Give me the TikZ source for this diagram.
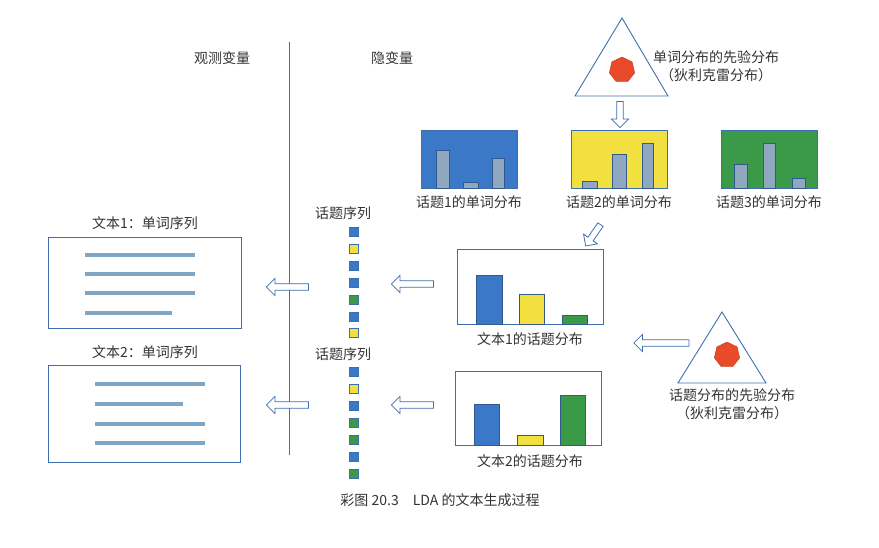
\documentclass[tikz,border=0pt]{standalone}
\usepackage{fontspec}
\setmainfont{Liberation Serif}
\newfontfamily\cjk{Noto Sans CJK SC}
\usetikzlibrary{shapes.geometric,shapes.arrows}
\definecolor{cB}{HTML}{3B78C8}
\definecolor{cY}{HTML}{F2E040}
\definecolor{cG}{HTML}{3A9A48}
\definecolor{cBar}{HTML}{8FA8BF}
\definecolor{cEdge}{HTML}{3D6FB0}
\definecolor{cRed}{HTML}{E84A2A}
\definecolor{cTxt}{HTML}{333333}
\definecolor{cLine}{HTML}{7FA6C4}
\begin{document}
\begin{tikzpicture}[x=1pt,y=-1pt,
  txt/.style={font=\cjk\fontsize{14}{18}\selectfont, text=cTxt, inner sep=0pt, align=center},
  harrow/.style={single arrow, draw=cEdge, fill=white, line width=0.8pt, minimum height=42pt, minimum width=17pt, single arrow head extend=4pt, inner sep=2pt},
  sq/.style={draw=cEdge, line width=0.5pt, minimum size=9pt, inner sep=0pt},
  frame/.style={draw=cEdge, line width=0.9pt},
  bar/.style={draw=cEdge!80!black, line width=0.5pt},
  hep/.style={regular polygon, regular polygon sides=7, fill=cRed, draw=cRed!80!black, minimum size=26pt, inner sep=0pt},
  wl/.style={draw=cLine, line width=3.5pt}]
\useasboundingbox (0,0) rectangle (879,547);
\node[txt] (obs) at (222,58) {观测变量};
\node[txt] (lat) at (392,58) {隐变量};
\draw[cEdge, line width=0.9pt] (289,42) -- (289,455);
% top triangle
\draw[frame] (622,18) -- (668,96) -- (575,96) -- cycle;
\node[hep] (h1) at (622,70) {};
\node[txt] (p1) at (716,66) {单词分布的先验分布\\（狄利克雷分布）};
\node[harrow, rotate=-90, minimum height=26pt] (a0) at (620,113) {};
% topic boxes
\draw[frame, fill=cB] (421,130) rectangle (517,188);
\foreach \a/\b/\t in {436/449/150,463/478/182,492/504/158}{\draw[bar,fill=cBar] (\a,188) rectangle (\b,\t);}
\draw[frame, fill=cY] (571,130) rectangle (667,188);
\foreach \a/\b/\t in {582/597/181,612/626/154,642/653/143}{\draw[bar,fill=cBar] (\a,188) rectangle (\b,\t);}
\draw[frame, fill=cG] (721,130) rectangle (817,188);
\foreach \a/\b/\t in {734/747/164,763/775/143,792/805/178}{\draw[bar,fill=cBar] (\a,188) rectangle (\b,\t);}
\node[txt] (t1) at (469,202) {话题1的单词分布};
\node[txt] (t2) at (619,202) {话题2的单词分布};
\node[txt] (t3) at (769,202) {话题3的单词分布};
\node[harrow, rotate=-125, minimum height=26pt] (a1) at (594,234) {};
% doc topic dists
\draw[frame] (457,249) rectangle (603,324);
\draw[bar,fill=cB] (476,324) rectangle (502,275);
\draw[bar,fill=cY] (519,324) rectangle (544,294);
\draw[bar,fill=cG] (562,324) rectangle (587,315);
\node[txt] (d1) at (530,339) {文本1的话题分布};
\draw[frame] (455,371) rectangle (601,445);
\draw[bar,fill=cB] (474,445) rectangle (499,404);
\draw[bar,fill=cY] (517,445) rectangle (543,435);
\draw[bar,fill=cG] (560,445) rectangle (585,395);
\node[txt] (d2) at (530,461) {文本2的话题分布};
% right triangle
\draw[frame] (722,312) -- (766,383) -- (678,383) -- cycle;
\node[hep] (h2) at (727,355) {};
\node[txt] (p2) at (732,404) {话题分布的先验分布\\（狄利克雷分布）};
\node[harrow, rotate=180, minimum height=55pt] (a2) at (663,343) {};
% arrows left
\node[harrow, rotate=180] (a3) at (414,284) {};
\node[harrow, rotate=180] (a4) at (414,405) {};
\node[harrow, rotate=180] (a5) at (289,287) {};
\node[harrow, rotate=180] (a6) at (289,405) {};
% topic sequences
\node[txt] (s1) at (343,213) {话题序列};
\foreach \y/\c [count=\i] in {232/cB,249/cY,266/cB,283/cB,300/cG,317/cB,333/cY}{\node[sq,fill=\c] (q1\i) at (354,\y) {};}
\node[txt] (s2) at (343,354) {话题序列};
\foreach \y/\c [count=\i] in {372/cB,389/cY,406/cB,423/cG,440/cG,457/cB,474/cG}{\node[sq,fill=\c] (q2\i) at (354,\y) {};}
% documents
\node[txt] (w1) at (145,223) {文本1：单词序列};
\draw[frame] (48,237) rectangle (241,328);
\draw[wl] (85,255) -- (195,255); \draw[wl] (85,274) -- (195,274);
\draw[wl] (85,293) -- (195,293); \draw[wl] (85,313) -- (172,313);
\node[txt] (w2) at (145,352) {文本2：单词序列};
\draw[frame] (48,365) rectangle (240,462);
\draw[wl] (95,384) -- (205,384); \draw[wl] (95,404) -- (183,404);
\draw[wl] (95,424) -- (205,424); \draw[wl] (95,443) -- (205,443);
\node[txt] (cap) at (440,500) {彩图 20.3\quad LDA 的文本生成过程};
\end{tikzpicture}
\end{document}
